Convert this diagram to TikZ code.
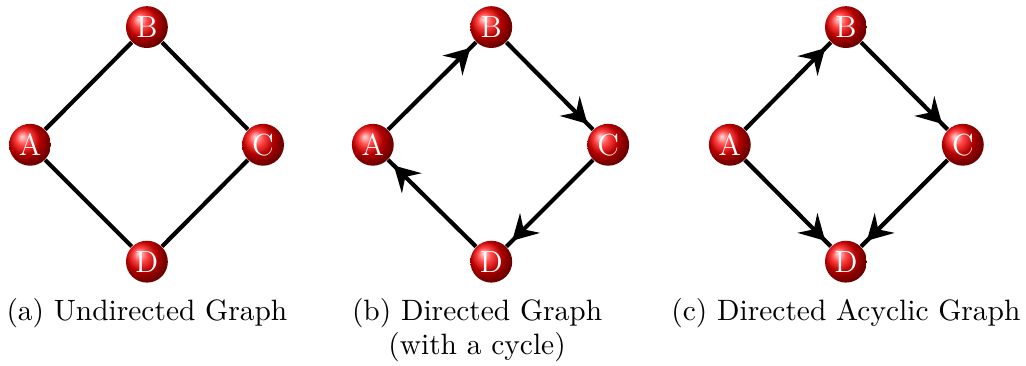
\documentclass[tikz,border=0pt]{standalone}
\usepackage{tikz}
\usetikzlibrary{arrows.meta, shapes.geometric, decorations.markings, positioning}

\begin{document}
\begin{tikzpicture}[
    vertex/.style={circle, shading=ball, ball color=red, text=white, minimum size=0.53cm, inner sep=0pt, font=\fontsize{11}{13}\selectfont},
    edge/.style={line width=1.5pt, black},
    arc/.style={edge, postaction={decorate}, decoration={markings, mark=at position -0.1cm with {\arrow{Stealth[length=9pt, width=10pt, inset=3.2pt]}}}},
    caption/.style={align=center, font=\fontsize{10.6}{12.2}\selectfont}
]
\useasboundingbox (0,0) rectangle (12.99,4.633);

% (a) Undirected graph
\node[vertex] (ua) at (0.38, 2.80) {A};
\node[vertex] (ub) at (1.86, 4.29) {B};
\node[vertex] (uc) at (3.33, 2.80) {C};
\node[vertex] (ud) at (1.86, 1.32) {D};
\draw[edge] (ua) -- (ub);
\draw[edge] (ub) -- (uc);
\draw[edge] (uc) -- (ud);
\draw[edge] (ud) -- (ua);
\node[caption] (capa) at (1.86, 0.67) {(a) Undirected Graph};

% (b) Directed graph with a cycle
\node[vertex] (da) at (4.72, 2.80) {A};
\node[vertex] (db) at (6.22, 4.29) {B};
\node[vertex] (dc) at (7.70, 2.80) {C};
\node[vertex] (dd) at (6.22, 1.32) {D};
\draw[arc] (da) -- (db);
\draw[arc] (db) -- (dc);
\draw[arc] (dc) -- (dd);
\draw[arc] (dd) -- (da);
\node[caption] (capb) at (6.04, 0.45) {(b) Directed Graph\\(with a cycle)};

% (c) Directed acyclic graph
\node[vertex] (ga) at (9.24, 2.80) {A};
\node[vertex] (gb) at (10.71, 4.29) {B};
\node[vertex] (gc) at (12.19, 2.80) {C};
\node[vertex] (gd) at (10.71, 1.32) {D};
\draw[arc] (ga) -- (gb);
\draw[arc] (gb) -- (gc);
\draw[arc] (ga) -- (gd);
\draw[arc] (gc) -- (gd);
\node[caption] (capc) at (10.71, 0.67) {(c) Directed Acyclic Graph};

\end{tikzpicture}
\end{document}
